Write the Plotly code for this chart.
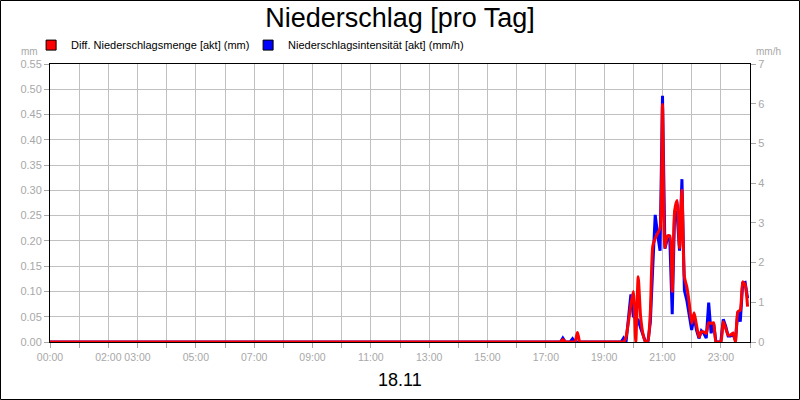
import plotly.graph_objects as go
import pandas as pd

day = "2023-11-18"

# 5 minute values from 17:00 to 23:55, everything before 17:00 is 0
slot_start = "17:00"
slot_end = "23:55"

# Diff. Niederschlagsmenge [akt] (mm)
menge = [0, 0, 0, 0, 0, 0, 0, 0.005, 0, 0, 0, 0,
         0, 0.019, 0, 0, 0, 0, 0, 0, 0, 0, 0, 0,
         0, 0, 0, 0, 0, 0, 0, 0, 0, 0.01, 0.04, 0.075,
         0.10, 0.0, 0.129, 0.05, 0.015, 0, 0.003, 0.06, 0.19, 0.205, 0.215, 0.225,
         0.47, 0.187, 0.21, 0.21, 0.10, 0.26, 0.28, 0.186, 0.30, 0.129, 0.109, 0.077,
         0.037, 0.058, 0.033, 0.01, 0.02, 0.02, 0.017, 0.038, 0.037, 0.038, 0, 0,
         0, 0.04, 0.027, 0.014, 0.014, 0.018, 0, 0.06, 0.063, 0.119, 0.113, 0.07]

# Niederschlagsintensität [akt] (mm/h)
intens = [0, 0, 0, 0, 0, 0, 0, 0.1, 0, 0, 0, 0.08,
          0, 0, 0, 0, 0, 0, 0, 0, 0, 0, 0, 0,
          0, 0, 0, 0, 0, 0, 0, 0, 0.1, 0, 0.6, 1.2,
          0.65, 0.6, 0.55, 0.35, 0.15, 0, 0, 0.5, 1.9, 3.2, 2.7, 2.3,
          6.2, 2.35, 2.6, 2.6, 0.7, 3.3, 3.25, 2.3, 4.1, 1.3, 1.05, 0.72,
          0.3, 0.64, 0.3, 0.09, 0.28, 0.22, 0.1, 0.99, 0.22, 0.47, 0, 0,
          0, 0.57, 0.4, 0.15, 0.15, 0.2, 0.05, 0.76, 0.51, 1.48, 1.5, 1.1]

hours = list(range(25))
hour_labels = ["00:00", "", "02:00", "03:00", "", "05:00", "", "07:00", "", "09:00", "", "11:00", "",
               "13:00", "", "15:00", "", "17:00", "", "19:00", "", "21:00", "", "23:00", ""]

times = [pd.Timestamp(f"{day} 00:00")] + list(pd.date_range(f"{day} {slot_start}", f"{day} {slot_end}", freq="5min"))
menge_all = [0] + menge
intens_all = [0] + intens

tickvals = [pd.Timestamp(day) + pd.Timedelta(hours=h) for h in hours]
grey = "#a8a8a8"

fig = go.Figure()

# blue on the base axis (right, mm/h), red on the overlay (left, mm) so red is drawn on top
fig.add_trace(go.Scatter(x=times, y=intens_all, yaxis="y", mode="lines",
                         line=dict(color="#0000ff", width=3), showlegend=False))
fig.add_trace(go.Scatter(x=times, y=menge_all, yaxis="y2", mode="lines",
                         line=dict(color="#ff0000", width=3, shape="spline", smoothing=0.6),
                         showlegend=False))

# legend entries as squares, one legend each so they can be placed like the original
fig.add_trace(go.Scatter(x=[None], y=[None], mode="markers", name="Diff. Niederschlagsmenge [akt] (mm)",
                         legend="legend",
                         marker=dict(symbol="square", size=10, color="#ff0000", line=dict(color="black", width=1))))
fig.add_trace(go.Scatter(x=[None], y=[None], mode="markers", name="Niederschlagsintensität [akt] (mm/h)",
                         legend="legend2",
                         marker=dict(symbol="square", size=10, color="#0000ff", line=dict(color="black", width=1))))

leg = dict(orientation="h", xanchor="left", y=1.068, yanchor="middle",
           font=dict(size=11), itemwidth=30, bgcolor="rgba(0,0,0,0)")

fig.update_layout(
    width=800, height=400,
    margin=dict(l=50, r=50, t=64, b=58),
    paper_bgcolor="white", plot_bgcolor="white",
    font=dict(family="Liberation Sans, Arial", size=11, color="black"),
    title=dict(text="Niederschlag [pro Tag]", x=0.5, xanchor="center", y=0.955, yanchor="middle",
               font=dict(size=27, color="black")),
    legend=dict(leg, x=-0.027),
    legend2=dict(leg, x=0.283),
    xaxis=dict(type="date", range=[tickvals[0], tickvals[-1]], tickvals=tickvals, ticktext=hour_labels,
               tickangle=0, automargin=False,
               showgrid=True, gridcolor="#c0c0c0", gridwidth=1,
               showline=True, linecolor="black", linewidth=1, mirror=True,
               ticks="outside", ticklen=5, tickcolor=grey, tickfont=dict(color=grey, size=10.5), zeroline=False),
    yaxis=dict(range=[0, 7], dtick=1, side="right", showgrid=False, automargin=False,
               showline=True, linecolor="black", linewidth=1,
               ticks="outside", ticklen=5, tickcolor=grey, tickfont=dict(color=grey, size=11), zeroline=False),
    yaxis2=dict(range=[0, 0.55], dtick=0.05, tickformat=".2f", overlaying="y", side="left", automargin=False,
                showgrid=True, gridcolor="#c0c0c0", gridwidth=1,
                showline=True, linecolor="black", linewidth=1,
                ticks="outside", ticklen=5, tickcolor=grey, tickfont=dict(color=grey, size=11), zeroline=False),
)

fig.add_annotation(text="mm", xref="paper", yref="paper", x=-10 / 700, y=1 + 13 / 278,
                   xanchor="right", yanchor="middle", showarrow=False, font=dict(color=grey, size=10))
fig.add_annotation(text="mm/h", xref="paper", yref="paper", x=1 + 4 / 700, y=1 + 13 / 278,
                   xanchor="left", yanchor="middle", showarrow=False, font=dict(color=grey, size=10))
fig.add_annotation(text="18.11", xref="paper", yref="paper", x=0.5, y=-38 / 278,
                   xanchor="center", yanchor="middle", showarrow=False, font=dict(color="black", size=18))

# frame around the whole picture
fig.add_shape(type="rect", xref="paper", yref="paper",
              x0=-49.5 / 700, x1=1 + 49.5 / 700, y0=-57.5 / 278, y1=1 + 63.5 / 278,
              line=dict(color="black", width=1))

fig.write_html("out.html", config={"displayModeBar": False},
               post_script="document.body.style.margin='0';")
